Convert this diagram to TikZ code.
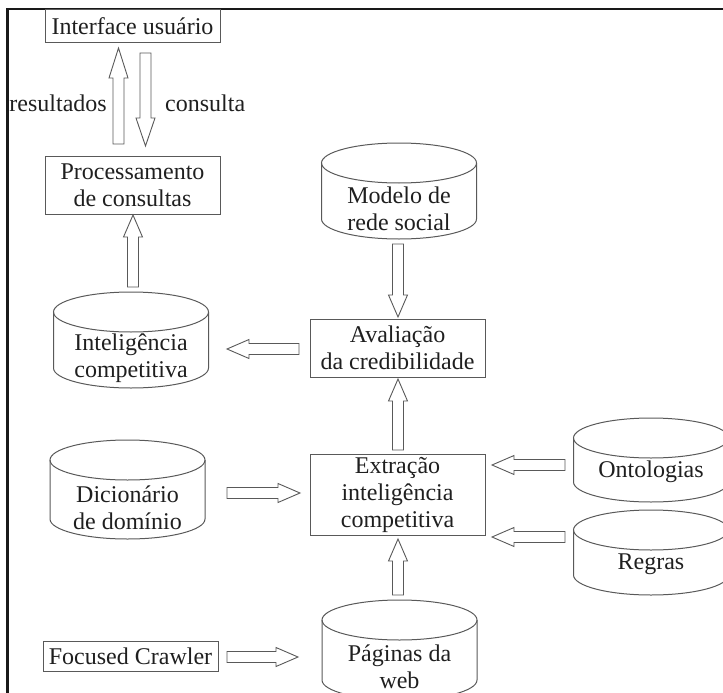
\documentclass[tikz,border=0pt]{standalone}
\usepackage{fontspec}
\setmainfont{Liberation Serif}
\usetikzlibrary{calc}

% hollow block arrow from #2 to #3, head length #1
\newcommand\fatarrow[3][22pt]{%
  \draw[fatline] let \p1=(#2), \p2=(#3),
    \n1={atan2(\y2-\y1,\x2-\x1)},
    \n2={veclen(\x2-\x1,\y2-\y1)-#1} in
    ($(\p1)+(\n1+90:5.5pt)$) -- ++(\n1:\n2) -- ++(\n1+90:4pt) -- (\p2)
    -- ($(\p1)+(\n1:\n2)+(\n1-90:9.5pt)$) -- ++(\n1+90:4pt)
    -- ($(\p1)+(\n1-90:5.5pt)$) -- cycle;}

% database drum drawn round a plain node
\newcommand\drum[1]{%
  \draw[ln] ([yshift=-20pt]#1.north west) -- ([yshift=20pt]#1.south west)
    arc[start angle=180, end angle=360, x radius=77.5pt, y radius=20pt]
    -- ([yshift=-20pt]#1.north east);
  \draw[ln] ([yshift=-20pt]#1.north) ellipse[x radius=77.5pt, y radius=20pt];}

\tikzset{
  txtfont/.style={font=\fontsize{24}{27}\selectfont, text=black!88},
  ln/.style={draw=black!65, line width=1pt},
  boxnode/.style={ln, txtfont, minimum width=175pt, inner sep=0pt, outer sep=0pt, align=center},
  drumnode/.style={inner sep=0pt, outer sep=0pt, minimum width=155pt},
  drumtext/.style={txtfont, align=center, inner sep=0pt},
  plaintext/.style={txtfont, inner sep=0pt},
  fatline/.style={draw=black!65, line width=0.9pt, line join=miter, fill=white},
  frameline/.style={draw=black!90, line width=2.4pt},
}

\begin{document}
\begin{tikzpicture}[x=1pt, y=-1pt]
\useasboundingbox (0,0) rectangle (723,693);

% outer frame
\draw[frameline] (7.5,720) -- (7.5,8.8) -- (740,8.8);

% boxes
\node[boxnode, minimum height=33pt] (iface) at (132.5,26.5) {Interface usuário};
\node[boxnode, minimum height=58pt] (proc) at (132.5,185) {Processamento\\de consultas};
\node[boxnode, minimum height=58pt] (aval) at (397.5,348) {Avaliação\\da credibilidade};
\node[boxnode, minimum height=81pt] (extr) at (397.5,494.5) {Extração\\inteligência\\competitiva};
\node[boxnode, minimum height=30pt] (crawler) at (130.5,656) {Focused Crawler};

% drums
\node[drumnode, minimum height=96pt,
  label={[drumtext, yshift=-18pt]center:{Modelo de\\rede social}}] (modelo) at (399,191) {};
\node[drumnode, minimum height=96pt,
  label={[drumtext, yshift=-18pt]center:{Inteligência\\competitiva}}] (intel) at (131,340) {};
\node[drumnode, minimum height=99pt,
  label={[drumtext, yshift=-18pt]center:{Dicionário\\de domínio}}] (dic) at (127.5,489.5) {};
\node[drumnode, minimum height=84pt,
  label={[drumtext, yshift=-12pt]center:{Ontologias}}] (onto) at (651,460) {};
\node[drumnode, minimum height=85pt,
  label={[drumtext, yshift=-12pt]center:{Regras}}] (regras) at (651,552.5) {};
\node[drumnode, minimum height=100pt,
  label={[drumtext, yshift=-16.5pt]center:{Páginas da\\web}}] (pag) at (399.5,650) {};

\foreach \d in {modelo,intel,dic,onto,regras,pag} {\drum{\d}}

% arrow captions
\node[plaintext, anchor=east] (res) at (107,103) {resultados};
\node[plaintext, anchor=west] (cons) at (165,103) {consulta};

% flows
\fatarrow[30pt]{$(proc.north)+(-14,-12)$}{$(iface.south)+(-14,5)$}
\fatarrow[28pt]{$(iface.south)+(13,10)$}{$(proc.north)+(13,-10)$}
\fatarrow{$(intel.north)+(2,-5)$}{$(proc.south)+(0.5,1)$}
\fatarrow{$(modelo.south)+(-1,5)$}{$(aval.north)+(0.5,-2)$}
\fatarrow{$(aval.west)+(-11,1)$}{$(intel.east)+(18.5,9)$}
\fatarrow{$(extr.north)+(0.5,-4)$}{$(aval.south)+(0.5,2)$}
\fatarrow{$(dic.east)+(22,3.5)$}{$(extr.west)+(-10,-1.5)$}
\fatarrow{$(onto.west)+(-8.5,5)$}{$(extr.east)+(7,-29.5)$}
\fatarrow{$(regras.west)+(-8.5,-15.5)$}{$(extr.east)+(7,42.5)$}
\fatarrow{$(pag.north)+(-1.5,-5)$}{$(extr.south)+(0.5,4)$}
\fatarrow{$(crawler.east)+(9,1)$}{$(pag.west)+(-24,7)$}
\end{tikzpicture}
\end{document}
